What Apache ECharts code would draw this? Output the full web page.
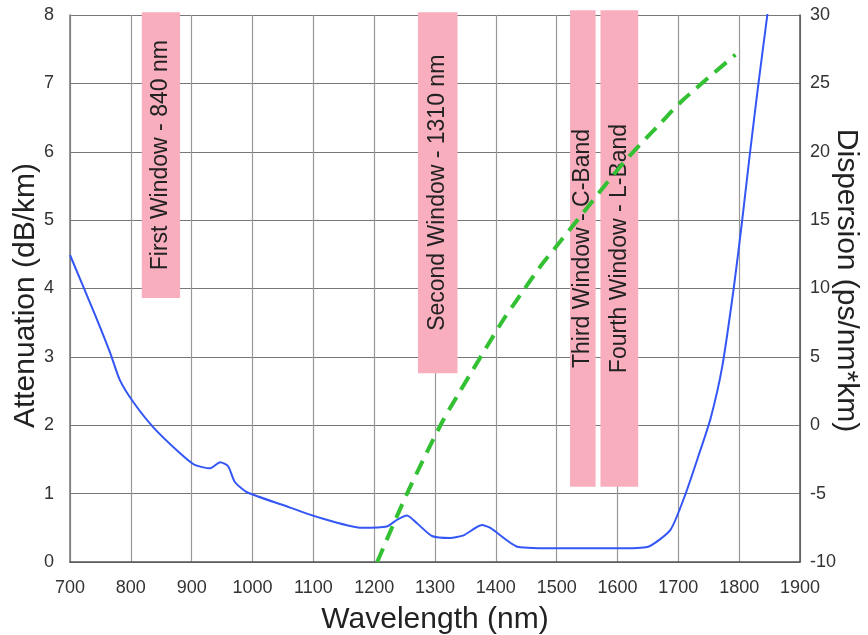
<!DOCTYPE html>
<html>
<head>
<meta charset="utf-8">
<script src="https://cdn.jsdelivr.net/npm/echarts@6/dist/echarts.min.js"></script>
<style>
html,body{margin:0;padding:0;background:#fff;}
#c{width:868px;height:635px;}
</style>
</head>
<body>
<div id="c"></div>
<script>
// Attenuation curve: [wavelength nm, dB/km]
var attenuation = [
  [700,4.49],[740,3.64],[766,3.06],[782,2.66],[804,2.34],[837,1.97],[881,1.59],
  [905,1.42],[930,1.37],[947,1.46],[960,1.40],[971,1.17],[991,1.02],[1051,0.83],
  [1106,0.66],[1180,0.50],[1221,0.52],[1238,0.62],[1254,0.68],[1270,0.57],
  [1295,0.38],[1325,0.35],[1347,0.39],[1377,0.54],[1391,0.50],[1437,0.22],
  [1506,0.20],[1600,0.20],[1649,0.22],[1687,0.47],[1712,1.00],[1733,1.55],
  [1753,2.10],[1772,2.85],[1791,4.00],[1805,5.00],[1818,6.00],[1831,6.95],[1847,8.05]
];
// Dispersion curve: [wavelength nm, ps/(nm*km)]
var dispersion = [
  [1205,-10],[1254,-5],[1309,0],[1336,2.1],[1412,7.7],[1429,8.8],[1473,11.6],
  [1498,13.0],[1534,15.0],[1610,19.2],[1671,22.1],[1708,23.8],[1794,27.1]
];
// Windows: [start nm, end nm, bottom (dB/km), top (dB/km), label]
var windowStart = [818, 1272, 1522, 1572];
var windowEnd   = [881, 1337, 1564, 1634];
var windowBottom = [3.86, 2.76, 1.10, 1.10];
var windowTop = [8.04, 8.04, 8.07, 8.07];
var windowLabels = ['First Window - 840 nm', 'Second Window - 1310 nm', 'Third Window - C-Band', 'Fourth Window - L-Band'];

var windowData = windowStart.map(function(s, i){
  return [s, windowEnd[i], windowBottom[i], windowTop[i], windowLabels[i]];
});

var FONT = 'Liberation Sans, Arial, sans-serif';
function plain(v){ return String(v); }
var chart = echarts.init(document.getElementById('c'), null, {renderer:'canvas'});
chart.setOption({
  animation: false,
  backgroundColor: '#fff',
  grid: {left: 70, right: 68, top: 15, bottom: 73, containLabel: false, outerBoundsMode: 'none'},
  xAxis: {
    type: 'value', min: 700, max: 1900, interval: 100,
    name: 'Wavelength (nm)', nameLocation: 'middle', nameGap: 43,
    nameTextStyle: {fontSize: 30, color: '#222', fontFamily: FONT},
    axisLine: {show: true, lineStyle: {color: '#555', width: 1.5}},
    axisTick: {show: false},
    axisLabel: {fontSize: 18, color: '#333', fontFamily: FONT, margin: 17, formatter: plain},
    splitLine: {show: true, lineStyle: {color: '#999', width: 1.2}}
  },
  yAxis: [{
    type: 'value', min: 0, max: 8, interval: 1,
    name: 'Attenuation (dB/km)', nameLocation: 'middle', nameGap: 29, nameRotate: 90,
    nameMoveOverlap: false,
    nameTextStyle: {fontSize: 30, color: '#222', fontFamily: FONT, padding: [0, 14, 0, 0]},
    axisLine: {show: true, lineStyle: {color: '#777', width: 1.5}},
    axisTick: {show: false},
    axisLabel: {fontSize: 18, color: '#333', fontFamily: FONT, margin: 16, formatter: plain},
    splitLine: {show: true, lineStyle: {color: '#777', width: 1.2}}
  }, {
    type: 'value', min: -10, max: 30, interval: 5, position: 'right',
    name: 'Dispersion (ps/nm*km)', nameLocation: 'middle', nameGap: 31, nameRotate: -90,
    nameMoveOverlap: false,
    nameTextStyle: {fontSize: 30, color: '#222', fontFamily: FONT, padding: [0, 16, 0, 0]},
    axisLine: {show: true, lineStyle: {color: '#555', width: 1.5}},
    axisTick: {show: false},
    axisLabel: {fontSize: 18, color: '#333', fontFamily: FONT, margin: 10, formatter: plain},
    splitLine: {show: false}
  }],
  series: [{
    type: 'custom',
    xAxisIndex: 0, yAxisIndex: 0,
    clip: false,
    z: 1,
    data: windowData,
    encode: {x: [0, 1], y: [2, 3]},
    renderItem: function(params, api){
      var p0 = api.coord([api.value(0), api.value(3)]);
      var p1 = api.coord([api.value(1), api.value(2)]);
      var w = p1[0] - p0[0], h = p1[1] - p0[1];
      return {
        type: 'group',
        children: [{
          type: 'rect',
          shape: {x: p0[0], y: p0[1], width: w, height: h},
          style: {fill: '#f9aebe'}
        }, {
          type: 'text',
          x: p0[0] + w / 2, y: p0[1] + h / 2,
          rotation: Math.PI / 2,
          style: {
            text: windowLabels[params.dataIndex],
            fontSize: 23, fontFamily: FONT, fill: '#222',
            align: 'center', verticalAlign: 'middle'
          }
        }]
      };
    }
  }, {
    type: 'line', xAxisIndex: 0, yAxisIndex: 0,
    data: attenuation, showSymbol: false, smooth: 0.2, z: 3,
    lineStyle: {color: '#3356f5', width: 2}
  }, {
    type: 'line', xAxisIndex: 0, yAxisIndex: 1,
    data: dispersion, showSymbol: false, smooth: 0.3, z: 4,
    lineStyle: {color: '#33c033', width: 4, type: [15, 9]}
  }]
});
</script>
</body>
</html>
